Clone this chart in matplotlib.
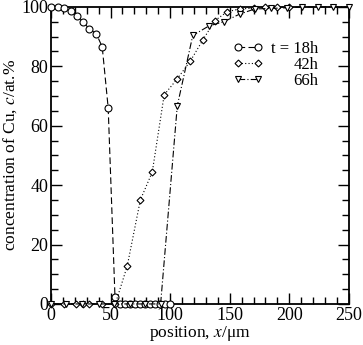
import matplotlib
matplotlib.use("Agg")
import matplotlib.pyplot as plt
from matplotlib.ticker import MultipleLocator

plt.rcParams['font.family'] = ['Liberation Serif', 'DejaVu Serif']
plt.rcParams['mathtext.fontset'] = 'stix'

# 18 h (circles)
x18 = [0, 6, 11, 17, 22, 27, 32, 38, 43, 48, 53.7, 57.5, 62, 66, 70.5, 75, 79, 83, 87, 91.4, 95.6, 100]
y18 = [100, 99.8, 99.5, 98.5, 97, 95, 92.6, 91, 86.5, 66, 2.4, 0, 0, 0, 0, 0, 0, 0, 0, 0, 0, 0]

# 42 h (diamonds)
x42 = [0, 11, 21, 27, 32, 43, 54, 64, 75, 85, 95, 106, 117, 127.5, 137.6, 148, 158.5, 170, 180, 190, 200]
y42 = [0, 0, 0, 0, 0, 0, 0, 12.8, 35, 44.4, 70.4, 75.8, 81.8, 88.9, 95.4, 98.4, 99.3, 99.6, 100, 100, 100]

# 66 h (triangles)
x66 = [0, 13, 26, 40, 53, 66, 79, 92, 106, 119, 132.6, 145, 158.5, 171, 185, 198, 211, 224, 237, 250]
y66 = [0, 0, 0, 0, 0, 0, 0, 0, 66.7, 90.4, 93.6, 95, 97.6, 99.3, 99.5, 99.7, 100, 100, 100, 100]

labels = ['t = 18h', '42h', '66h']

fig = plt.figure(figsize=(3.63, 3.45), dpi=100)
ax = fig.add_axes([0.1405, 0.119, 0.8205, 0.861])

ax.plot(x18, y18, linestyle=(0, (6, 3)), color='black', lw=0.8, marker='o', ms=5,
        mfc='white', mec='black', mew=0.8, clip_on=False, zorder=3, label=labels[0])
ax.plot(x42, y42, linestyle=(0, (1, 2)), color='black', lw=0.8, marker='D', ms=3.5,
        mfc='white', mec='black', mew=0.8, clip_on=False, zorder=3, label=labels[1])
ax.plot(x66, y66, linestyle=(0, (6, 2, 1, 2)), color='black', lw=0.8, marker='v', ms=5,
        mfc='white', mec='black', mew=0.8, clip_on=False, zorder=3, label=labels[2])

ax.set_xlim(0, 250)
ax.set_ylim(0, 100)
ax.xaxis.set_major_locator(MultipleLocator(50))
ax.xaxis.set_minor_locator(MultipleLocator(10))
ax.yaxis.set_major_locator(MultipleLocator(20))
ax.yaxis.set_minor_locator(MultipleLocator(5))
ax.tick_params(which='both', direction='in', top=True, right=True, labelsize=13, pad=2)
ax.tick_params(which='major', length=8, width=1)
ax.tick_params(which='minor', length=5, width=1)
for s in ax.spines.values():
    s.set_linewidth(1.3)

ax.set_xlabel('position, $x$/μm', fontsize=12.5, labelpad=0)
ax.set_ylabel('concentration of Cu, $c$/at.%', fontsize=12.5, labelpad=2)

leg = ax.legend(loc='upper left', bbox_to_anchor=(0.61, 0.885), frameon=False, numpoints=2,
                handlelength=1.8, handletextpad=0.5, labelspacing=0.0, fontsize=12,
                borderpad=0, borderaxespad=0)
texts = leg.get_texts()
fig.canvas.draw()
w0 = texts[0].get_window_extent().width
for t in texts[1:]:
    t.set_position((w0 - t.get_window_extent().width, 0))

fig.savefig('out.png', dpi=100)
